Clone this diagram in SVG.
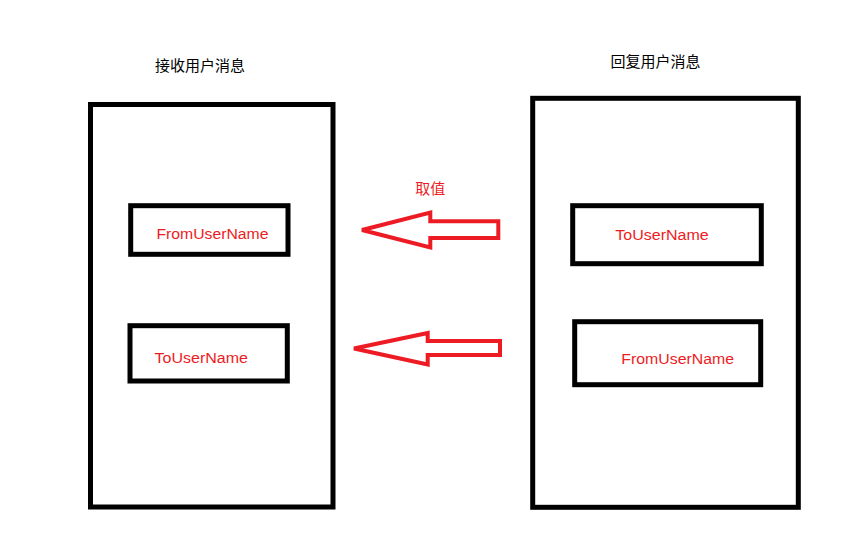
<svg xmlns="http://www.w3.org/2000/svg" width="866" height="557" viewBox="0 0 866 557">
<style>
.box{fill:none;stroke:#000;stroke-width:5}
.title{font-family:"Noto Sans CJK SC","Noto Sans",sans-serif;font-size:15px;fill:#000}
.lbl{font-family:"Liberation Sans","Noto Sans",sans-serif;font-size:15.5px;fill:#ED1C24}
.cjkred{font-family:"Noto Sans CJK SC","Noto Sans",sans-serif;font-size:15px;fill:#ED1C24}
.arrow{fill:none;stroke:#ED1C24;stroke-width:4;stroke-linejoin:miter}
</style>
<rect width="866" height="557" fill="#fff"/>
<g id="receive">
<text class="title" x="155" y="71">接收用户消息</text>
<rect class="box" x="90.5" y="104.5" width="242.5" height="402.5"/>
</g>
<g id="reply">
<text class="title" x="610.5" y="67">回复用户消息</text>
<rect class="box" x="532.7" y="98.3" width="265.6" height="409"/>
</g>
<g id="recv-from">
<rect class="box" x="130.7" y="205.7" width="157.3" height="48.6"/>
<text class="lbl" x="156.5" y="238.5" textLength="112" lengthAdjust="spacingAndGlyphs">FromUserName</text>
</g>
<g id="recv-to">
<rect class="box" x="130" y="325.7" width="157.3" height="55.3"/>
<text class="lbl" x="154.5" y="362.5" textLength="93.5" lengthAdjust="spacingAndGlyphs">ToUserName</text>
</g>
<g id="reply-to">
<rect class="box" x="572.7" y="205.7" width="188.6" height="58"/>
<text class="lbl" x="615.3" y="240" textLength="93.5" lengthAdjust="spacingAndGlyphs">ToUserName</text>
</g>
<g id="reply-from">
<rect class="box" x="574.7" y="321.7" width="186" height="63"/>
<text class="lbl" x="621.3" y="364" textLength="112.7" lengthAdjust="spacingAndGlyphs">FromUserName</text>
</g>
<g id="connectors">
<polygon class="arrow" points="362,230 430.3,212.5 430.3,221.3 498.3,221.3 498.3,238 430.3,238 430.3,247.5"/>
<text class="cjkred" x="415.3" y="194">取值</text>
<polygon class="arrow" points="354,348.5 427.7,333 427.7,341 500,341 500,355 427.7,355 427.7,364.5"/>
</g>
</svg>
